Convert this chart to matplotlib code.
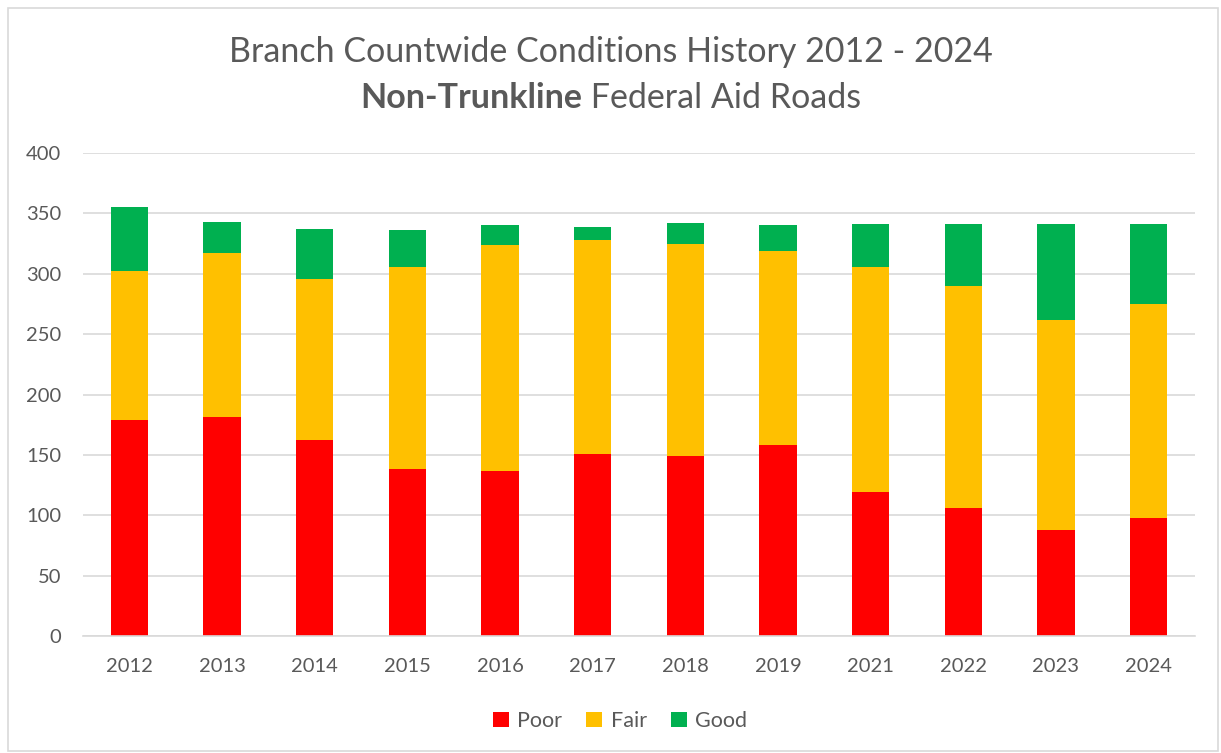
import numpy as np
import matplotlib.pyplot as plt
from matplotlib.patches import Rectangle

# Values (miles)
years = ["2012", "2013", "2014", "2015", "2016", "2017",
         "2018", "2019", "2021", "2022", "2023", "2024"]
poor = [179, 181, 162, 138, 137, 151, 149, 158, 119, 106, 88, 98]
fair = [123, 136, 134, 168, 187, 177, 176, 161, 187, 184, 174, 177]
good = [53, 26, 41, 30, 16, 11, 17, 21, 35, 51, 79, 66]

colors = {"Poor": "#FF0000", "Fair": "#FFC000", "Good": "#00B050"}
text_color = "#595959"
grid_color = "#D9D9D9"

plt.rcParams["font.family"] = ["Lato", "DejaVu Sans"]

fig = plt.figure(figsize=(12.21, 7.53), dpi=100)
ax = fig.add_axes([83 / 1221, 1 - 636 / 753, 1112 / 1221, 483 / 753])

x = np.arange(len(years))
poor_a = np.array(poor)
fair_a = np.array(fair)
good_a = np.array(good)
w = 0.4

ax.bar(x, poor_a, w, color=colors["Poor"], label="Poor", zorder=3)
ax.bar(x, fair_a, w, bottom=poor_a, color=colors["Fair"], label="Fair", zorder=3)
ax.bar(x, good_a, w, bottom=poor_a + fair_a, color=colors["Good"], label="Good", zorder=3)

ax.set_xlim(-0.5, len(years) - 0.5)
ax.set_ylim(0, 400)
ax.set_yticks(range(0, 401, 50))
ax.set_xticks(x)
ax.set_xticklabels(years)
ax.yaxis.grid(True, color=grid_color, linewidth=1.2, zorder=0)
ax.tick_params(axis="both", length=0, labelsize=14.5, colors=text_color)
ax.tick_params(axis="y", pad=15.5)
ax.tick_params(axis="x", pad=16)
for s in ["top", "right", "left"]:
    ax.spines[s].set_visible(False)
ax.spines["bottom"].set_color(grid_color)
ax.spines["bottom"].set_linewidth(1.2)
ax.spines["bottom"].set_zorder(4)

# Two-line title, second line partly bold
fig.text(0.5, 1 - 52 / 753, "Branch Countwide Conditions History 2012 - 2024",
         ha="center", va="center", fontsize=24.5, color=text_color)
t1 = fig.text(0.5, 1 - 98 / 753, "Non-Trunkline", ha="right", va="center",
              fontsize=24.5, fontweight="bold", color=text_color)
t2 = fig.text(0.5, 1 - 98 / 753, " Federal Aid Roads", ha="left", va="center",
              fontsize=24.5, color=text_color)
fig.canvas.draw()
r = fig.canvas.get_renderer()
w1 = t1.get_window_extent(r).width
w2 = t2.get_window_extent(r).width
shift = (w1 - w2) / 2 / fig.bbox.width
t1.set_x(0.5 + shift)
t2.set_x(0.5 + shift)

ax.legend(loc="center", bbox_to_anchor=(0.483, -0.176), ncol=3, frameon=False,
          fontsize=15.5, labelcolor=text_color, handlelength=0.75,
          handleheight=0.75, columnspacing=1.1, handletextpad=0.4)

# light chart border
fig.patches.append(Rectangle((8 / 1221, 0.002), 1210 / 1221, 1 - 10 / 753,
                             transform=fig.transFigure, fill=False,
                             edgecolor=grid_color, linewidth=1.2))

fig.savefig("out.png", dpi=100)
